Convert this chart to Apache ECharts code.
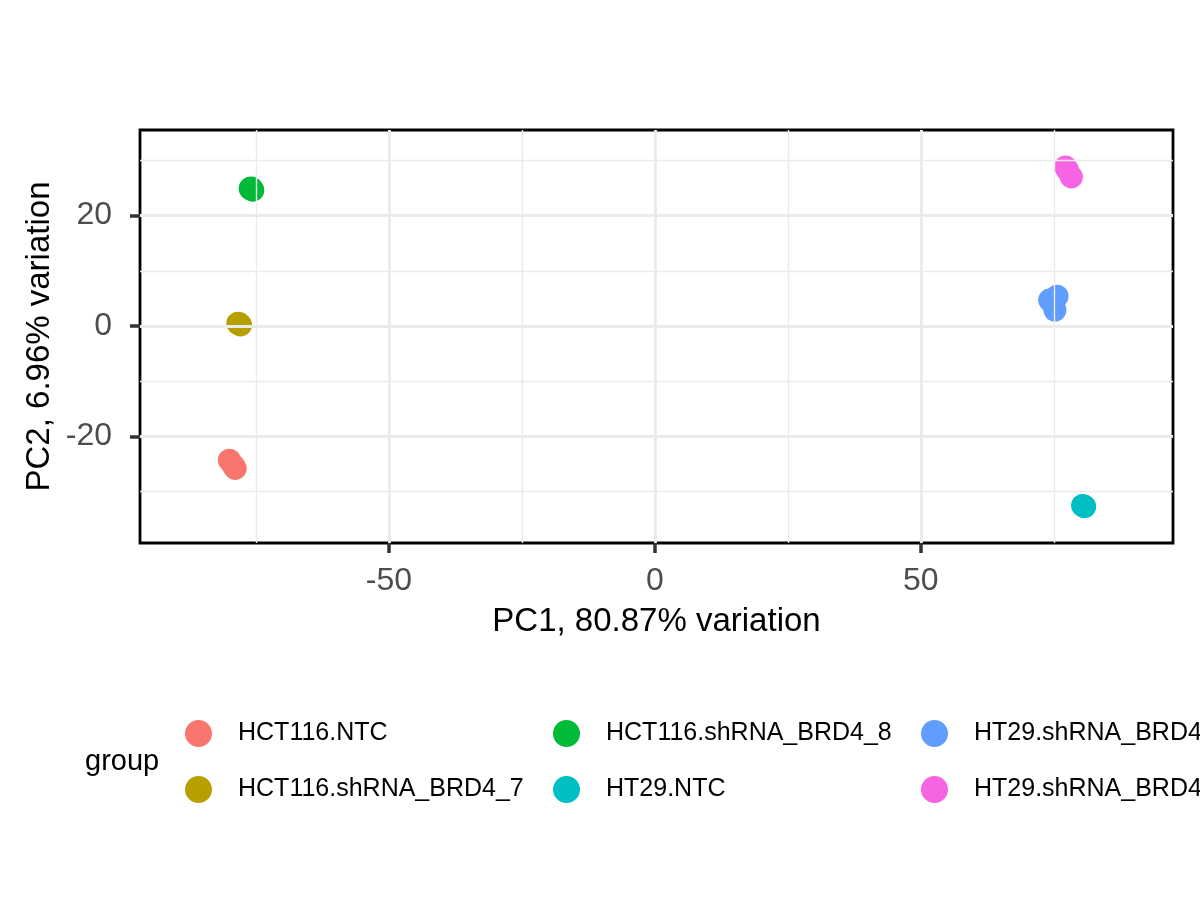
<!DOCTYPE html>
<html>
<head>
<meta charset="utf-8">
<script src="https://cdn.jsdelivr.net/npm/echarts@6/dist/echarts.min.js"></script>
<style>
  html, body { margin: 0; padding: 0; background: #fff; }
  #chart { width: 1200px; height: 900px; }
</style>
</head>
<body>
<div id="chart"></div>
<script>
var groups = ['HCT116.NTC', 'HCT116.shRNA_BRD4_7', 'HCT116.shRNA_BRD4_8',
              'HT29.NTC', 'HT29.shRNA_BRD4_7', 'HT29.shRNA_BRD4_8'];
var colors = ['#F8766D', '#B79F00', '#00BA38', '#00BFC4', '#619CFF', '#F564E3'];

// PC1 / PC2 per sample, three replicates per group
var pc1 = [
    [-80.0, -78.9, -79.3],
    [-78.4, -77.9, -78.1],
    [-76.1, -75.6, -75.9],
    [80.4, 80.8, 80.6],
    [75.6, 74.2, 75.2],
    [77.2, 78.3, 77.6]
];
var pc2 = [
    [-24.3, -25.8, -25.2],
    [0.5, 0.2, 0.4],
    [24.9, 24.6, 25.0],
    [-32.5, -32.7, -32.6],
    [5.4, 4.7, 2.9],
    [28.8, 27.0, 28.2]
];

var xRange = [-96.8, 97.4];
var yRange = [-39.3, 35.5];
var xMajor = [-50, 0, 50];
var xMinor = [-75, -25, 25, 75];
var yMajor = [-20, 0, 20];
var yMinor = [-30, -10, 10, 30];

var chart = echarts.init(document.getElementById('chart'));

// grid lines drawn as markLines so the minor/major widths match ggplot
function gridLines(vals, key, w) {
    return vals.map(function (v) {
        var o = { lineStyle: { width: w } };
        o[key] = v;
        return o;
    });
}

var series = [{
    type: 'scatter',
    data: [],
    silent: true,
    markLine: {
        silent: true,
        symbol: 'none',
        label: { show: false },
        animation: false,
        lineStyle: { color: '#EBEBEB', type: 'solid' },
        data: gridLines(xMinor, 'xAxis', 1.4)
            .concat(gridLines(yMinor, 'yAxis', 1.4))
            .concat(gridLines(xMajor, 'xAxis', 2.9))
            .concat(gridLines(yMajor, 'yAxis', 2.9))
    }
}];

groups.forEach(function (g, i) {
    series.push({
        name: g,
        type: 'scatter',
        symbolSize: 23,
        itemStyle: { color: colors[i], opacity: 1 },
        data: pc1[i].map(function (x, j) { return [x, pc2[i][j]]; }),
        z: 3
    });
});

var labelFmt = function (list) {
    return function (v) {
        for (var k = 0; k < list.length; k++) {
            if (Math.abs(v - list[k]) < 1e-6) return String(v);
        }
        return '';
    };
};

var legendCols = [[groups[0], groups[1]], [groups[2], groups[3]], [groups[4], groups[5]]];
var legendLeft = [180, 548, 916];

var tickStyle = { color: '#333', width: 3.5 };

var option = {
    backgroundColor: '#fff',
    animation: false,
    textStyle: { fontFamily: 'Liberation Sans, Arial, sans-serif' },
    title: {
        text: 'group',
        left: 80,
        top: 742,
        textStyle: { fontSize: 29, fontWeight: 'normal', color: '#000' }
    },
    legend: legendCols.map(function (col, i) {
        return {
            data: col,
            orient: 'vertical',
            left: legendLeft[i],
            top: 715,
            itemWidth: 27,
            itemHeight: 27,
            itemGap: 29,
            icon: 'circle',
            selectedMode: false,
            textStyle: { fontSize: 25, color: '#000', padding: [0, 0, 0, 21] }
        };
    }),
    grid: {
        left: 140,
        top: 130,
        width: 1033,
        height: 413,
        show: true,
        borderColor: '#000',
        borderWidth: 2.8,
        backgroundColor: '#fff'
    },
    xAxis: {
        type: 'value',
        min: xRange[0],
        max: xRange[1],
        splitNumber: 4,
        name: 'PC1, 80.87% variation',
        nameLocation: 'middle',
        nameGap: 62,
        nameMoveOverlap: false,
        nameTextStyle: { fontSize: 33, color: '#000' },
        axisLine: { show: false, onZero: false },
        axisTick: { show: true, length: 10, lineStyle: tickStyle, customValues: xMajor },
        axisLabel: { fontSize: 32, color: '#4D4D4D', margin: 22,
            customValues: xMajor, formatter: labelFmt(xMajor) },
        splitLine: { show: false }
    },
    yAxis: {
        type: 'value',
        min: yRange[0],
        max: yRange[1],
        splitNumber: 4,
        name: 'PC2, 6.96% variation',
        nameLocation: 'middle',
        nameGap: 84,
        nameMoveOverlap: false,
        nameTextStyle: { fontSize: 33, color: '#000' },
        axisLine: { show: false, onZero: false },
        axisTick: { show: true, length: 10, lineStyle: tickStyle, customValues: yMajor },
        axisLabel: { fontSize: 32, color: '#4D4D4D', margin: 28,
            customValues: yMajor, formatter: labelFmt(yMajor) },
        splitLine: { show: false }
    },
    series: series
};

chart.setOption(option);
</script>
</body>
</html>
